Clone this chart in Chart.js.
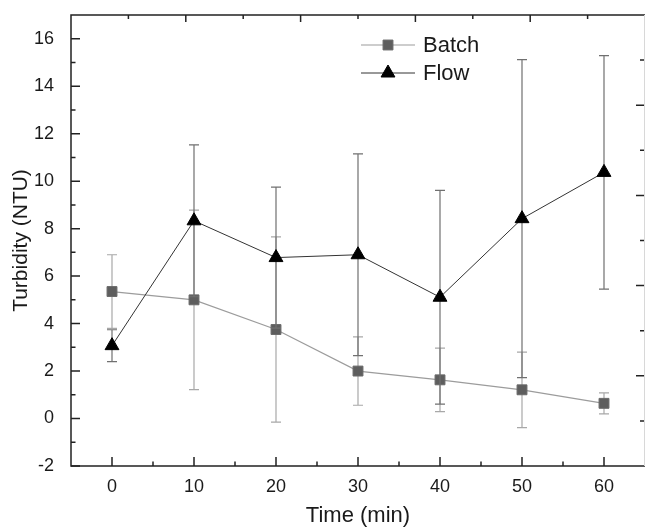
<!DOCTYPE html>
<html>
<head>
<meta charset="utf-8">
<script src="https://cdn.jsdelivr.net/npm/chart.js@4"></script>
<style>
  html, body { margin: 0; padding: 0; background: #fff; }
  #wrap { width: 645px; height: 530px; }
</style>
</head>
<body>
<div id="wrap"><canvas id="turbidityChart" width="645" height="530"></canvas></div>
<script>
        // datos
        const times = [0, 10, 20, 30, 40, 50, 60];
        const batchMean = [5.35, 5.0, 3.75, 2.0, 1.63, 1.21, 0.64];
        const batchErr = [1.55, 3.78, 3.9, 1.44, 1.34, 1.59, 0.44];
        const flowMean = [3.07, 8.33, 6.78, 6.9, 5.11, 8.42, 10.37];
        const flowErr = [0.67, 3.2, 2.97, 4.25, 4.5, 6.7, 4.92];

        const xTicks = [0, 10, 20, 30, 40, 50, 60];
        const xMinor = [5, 15, 25, 35, 45, 55];
        const yTicks = [-2, 0, 2, 4, 6, 8, 10, 12, 14, 16];
        const yMinor = [-1, 1, 3, 5, 7, 9, 11, 13, 15];
        // ejes espejo (arriba / derecha), sin etiquetas
        const mirrorMajor = [1, 2, 3, 4];
        const mirrorMinor = [0.5, 1.5, 2.5, 3.5, 4.5];

        const labelFont = { family: 'Liberation Sans, Arial, sans-serif', size: 18 };
        const titleFont = { family: 'Liberation Sans, Arial, sans-serif', size: 21 };
        const textColor = '#1a1a1a';

        const errorSets = [
            { mean: batchMean, err: batchErr, color: '#a8a8a8' },
            { mean: flowMean, err: flowErr, color: '#707070' }
        ];

        // quitar los márgenes que Chart.js reserva para las etiquetas
        function noPad(s) {
            s.paddingTop = 0; s.paddingBottom = 0;
            s.paddingLeft = 0; s.paddingRight = 0;
        }

        // barras de error, justo antes de cada serie
        const errorBars = {
            id: 'errorBars',
            beforeDatasetDraw(chart, args) {
                const set = errorSets[args.index];
                if (!set) return;
                const { ctx } = chart;
                const x = chart.scales.x;
                const y = chart.scales.y;
                ctx.save();
                ctx.strokeStyle = set.color;
                ctx.lineWidth = 1.2;
                times.forEach((t, i) => {
                    const px = x.getPixelForValue(t);
                    const top = y.getPixelForValue(set.mean[i] + set.err[i]);
                    const bot = y.getPixelForValue(set.mean[i] - set.err[i]);
                    ctx.beginPath();
                    ctx.moveTo(px, top); ctx.lineTo(px, bot);
                    ctx.moveTo(px - 5, top); ctx.lineTo(px + 5, top);
                    ctx.moveTo(px - 5, bot); ctx.lineTo(px + 5, bot);
                    ctx.stroke();
                });
                ctx.restore();
            }
        };

        // marco y marcas hacia dentro
        const frameTicks = {
            id: 'frameTicks',
            afterDraw(chart) {
                const { ctx, chartArea: a, scales } = chart;
                ctx.save();
                ctx.strokeStyle = '#222';
                ctx.lineWidth = 1.5;
                ctx.beginPath();
                ctx.moveTo(a.right, a.top); ctx.lineTo(a.left, a.top);
                ctx.lineTo(a.left, a.bottom); ctx.lineTo(a.right, a.bottom);
                ctx.stroke();

                const tick = (x1, y1, x2, y2) => { ctx.moveTo(x1, y1); ctx.lineTo(x2, y2); };
                ctx.beginPath();
                xTicks.forEach(v => { const p = scales.x.getPixelForValue(v); tick(p, a.bottom, p, a.bottom - 9); });
                xMinor.forEach(v => { const p = scales.x.getPixelForValue(v); tick(p, a.bottom, p, a.bottom - 4.5); });
                yTicks.forEach(v => { const p = scales.y.getPixelForValue(v); tick(a.left, p, a.left + 9, p); });
                yMinor.forEach(v => { const p = scales.y.getPixelForValue(v); tick(a.left, p, a.left + 4.5, p); });
                mirrorMajor.forEach(v => { const p = scales.x2.getPixelForValue(v); tick(p, a.top, p, a.top + 7); });
                mirrorMinor.forEach(v => { const p = scales.x2.getPixelForValue(v); tick(p, a.top, p, a.top + 4); });
                mirrorMajor.forEach(v => { const p = scales.y2.getPixelForValue(v); tick(a.right - 1, p, a.right - 9, p); });
                mirrorMinor.forEach(v => { const p = scales.y2.getPixelForValue(v); tick(a.right - 1, p, a.right - 5, p); });
                ctx.stroke();

                ctx.strokeStyle = '#d8d8d8';
                ctx.lineWidth = 1;
                ctx.beginPath();
                ctx.moveTo(a.right - 0.5, a.top); ctx.lineTo(a.right - 0.5, a.bottom);
                ctx.stroke();
                ctx.restore();
            }
        };

        // leyenda dibujada a mano (línea + marcador + texto)
        const lineLegend = {
            id: 'lineLegend',
            afterDraw(chart) {
                const { ctx } = chart;
                const rows = [
                    { ds: chart.data.datasets[0], y: 45 },
                    { ds: chart.data.datasets[1], y: 73 }
                ];
                ctx.save();
                rows.forEach(r => {
                    ctx.strokeStyle = r.ds.borderColor;
                    ctx.lineWidth = r.ds.borderWidth;
                    ctx.beginPath();
                    ctx.moveTo(361, r.y); ctx.lineTo(415, r.y);
                    ctx.stroke();
                    ctx.fillStyle = r.ds.pointBackgroundColor;
                    ctx.strokeStyle = r.ds.pointBorderColor;
                    ctx.lineWidth = 1;
                    Chart.helpers.drawPoint(ctx, {
                        pointStyle: r.ds.pointStyle,
                        radius: r.ds.pointRadius,
                        borderWidth: 1,
                        rotation: 0
                    }, 388, r.y);
                    ctx.fillStyle = textColor;
                    ctx.font = '22px "Liberation Sans", Arial, sans-serif';
                    ctx.textBaseline = 'middle';
                    ctx.fillText(r.ds.label, 423, r.y + 1);
                });
                ctx.restore();
            }
        };

        const ctx = document.getElementById('turbidityChart').getContext('2d');
        const chart = new Chart(ctx, {
            type: 'line',
            data: {
                datasets: [
                    {
                        label: 'Batch',
                        data: times.map((t, i) => ({ x: t, y: batchMean[i] })),
                        borderColor: '#9c9c9c',
                        borderWidth: 1.2,
                        pointStyle: 'rect',
                        pointRadius: 7,
                        pointBackgroundColor: '#5e5e5e',
                        pointBorderColor: '#6a6a6a',
                        pointBorderWidth: 1,
                        tension: 0,
                        order: 1
                    },
                    {
                        label: 'Flow',
                        data: times.map((t, i) => ({ x: t, y: flowMean[i] })),
                        borderColor: '#333333',
                        borderWidth: 1,
                        pointStyle: 'triangle',
                        pointRadius: 8,
                        pointBackgroundColor: '#000000',
                        pointBorderColor: '#000000',
                        pointBorderWidth: 1,
                        tension: 0,
                        order: 0
                    }
                ]
            },
            options: {
                responsive: false,
                animation: false,
                layout: { autoPadding: false, padding: { top: 15, right: 0, left: 0, bottom: 0 } },
                plugins: {
                    legend: { display: false },
                    tooltip: { enabled: false }
                },
                scales: {
                    x: {
                        type: 'linear',
                        position: 'bottom',
                        min: -5,
                        max: 65,
                        afterBuildTicks: s => { s.ticks = xTicks.map(v => ({ value: v })); },
                        afterFit: s => { s.height = 64; noPad(s); },
                        grid: { display: false },
                        border: { display: false },
                        ticks: { font: labelFont, color: textColor, padding: 2, maxRotation: 0 },
                        title: { display: true, text: 'Time (min)', font: { family: titleFont.family, size: 22 }, color: textColor, padding: { top: 0, bottom: 1 } }
                    },
                    y: {
                        type: 'linear',
                        position: 'left',
                        min: -2,
                        max: 17,
                        afterBuildTicks: s => { s.ticks = yTicks.map(v => ({ value: v })); },
                        afterFit: s => { s.width = 71; noPad(s); },
                        grid: { display: false },
                        border: { display: false },
                        ticks: { font: labelFont, color: textColor, padding: 9 },
                        title: { display: true, text: 'Turbidity (NTU)', font: titleFont, color: textColor, padding: { top: 9, bottom: 0 } }
                    },
                    x2: {
                        type: 'linear',
                        position: 'top',
                        min: 0,
                        max: 5,
                        afterFit: s => { s.height = 0; noPad(s); },
                        grid: { display: false },
                        border: { display: false },
                        ticks: { display: false }
                    },
                    y2: {
                        type: 'linear',
                        position: 'right',
                        min: 0,
                        max: 5,
                        afterFit: s => { s.width = 0; noPad(s); },
                        grid: { display: false },
                        border: { display: false },
                        ticks: { display: false }
                    }
                }
            },
            plugins: [errorBars, frameTicks, lineLegend]
        });
</script>
</body>
</html>
